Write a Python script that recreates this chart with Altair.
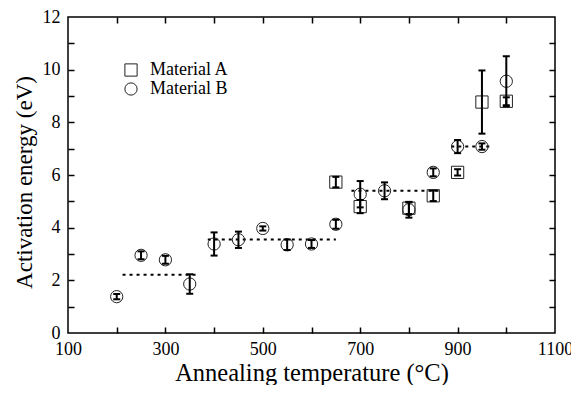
import altair as alt
import pandas as pd

# Material A (squares)
a_temp = [650, 700, 800, 850, 900, 950, 1000]
a_energy = [5.73, 4.80, 4.74, 5.21, 6.10, 8.77, 8.80]
a_err = [0.20, 0.25, 0.22, 0.20, 0.12, 1.20, 0.15]

# Material B (circles)
b_temp = [200, 250, 300, 350, 400, 450, 500, 550, 600, 650, 700, 750, 800, 850, 900, 950, 1000]
b_energy = [1.38, 2.95, 2.78, 1.86, 3.38, 3.54, 3.97, 3.35, 3.38, 4.13, 5.27, 5.40, 4.68, 6.10, 7.08, 7.08, 9.56]
b_err = [0.10, 0.15, 0.15, 0.37, 0.44, 0.31, 0.08, 0.20, 0.15, 0.17, 0.50, 0.32, 0.30, 0.15, 0.25, 0.12, 0.95]

# dotted plateau levels
fit_start = [212, 387, 682, 887]
fit_end = [364, 650, 867, 972]
fit_level = [2.21, 3.55, 5.40, 7.08]

x_label_values = [100, 300, 500, 700, 900, 1100]
x_tick_values = [200, 300, 400, 500, 600, 700, 800, 900, 1000]
y_label_values = [0, 2, 4, 6, 8, 10, 12]
y_tick_values = [1, 2, 3, 4, 5, 6, 7, 8, 9, 10, 11]

rows = []
for t, e, s in zip(a_temp, a_energy, a_err):
    rows.append({"T": t, "E": e, "lo": e - s, "hi": e + s, "material": "Material A"})
for t, e, s in zip(b_temp, b_energy, b_err):
    rows.append({"T": t, "E": e, "lo": e - s, "hi": e + s, "material": "Material B"})
df = pd.DataFrame(rows)
fit = pd.DataFrame({"x1": fit_start, "x2": fit_end, "y": fit_level})

FONT = "Liberation Serif"
xs = alt.Scale(domain=[100, 1100], nice=False, zero=False)
ys = alt.Scale(domain=[0, 12], nice=False, zero=True)


def tick_axis(orient, values):
    return alt.Axis(orient=orient, offset=-6, tickSize=6, tickWidth=1.5, tickColor="black",
                    values=values, labels=False, domain=False, grid=False, title="")


points = alt.Chart(df).mark_point(filled=False, size=150, strokeWidth=1, color="#222", opacity=1).encode(
    x=alt.X("T:Q", scale=xs, axis=alt.Axis(
        orient="bottom", values=x_label_values, ticks=False, domain=False, grid=False, format="d",
        labelFont=FONT, labelFontSize=18, labelColor="black", labelPadding=7,
        labelFlush=False, labelOverlap=False,
        title="Annealing temperature (°C)", titleFont=FONT, titleFontSize=24.5,
        titleFontWeight="normal", titleColor="black", titlePadding=3)),
    y=alt.Y("E:Q", scale=ys, axis=alt.Axis(
        orient="left", values=y_label_values, ticks=False, domain=False, grid=False, format="d",
        labelFont=FONT, labelFontSize=18, labelColor="black", labelPadding=8,
        labelFlush=False, labelOverlap=False,
        title="Activation energy (eV)", titleFont=FONT, titleFontSize=23,
        titleFontWeight="normal", titleColor="black", titlePadding=6, titleY=165)),
    shape=alt.Shape("material:N", scale=alt.Scale(domain=["Material A", "Material B"],
                                                    range=["square", "circle"]),
                    legend=alt.Legend(orient="none", legendX=54, legendY=44, title="",
                                      labelFont=FONT, labelFontSize=18,
                                      labelColor="black", labelLimit=300,
                                      symbolSize=150, symbolStrokeWidth=1, symbolStrokeColor="#222",
                                      symbolFillColor="transparent", labelOffset=10,
                                      rowPadding=1, padding=0)),
)

bars = alt.Chart(df).mark_rule(strokeWidth=2, color="black").encode(
    x=alt.X("T:Q", scale=xs, axis=tick_axis("bottom", x_tick_values)),
    y=alt.Y("lo:Q", scale=ys, axis=tick_axis("left", y_tick_values)),
    y2="hi:Q",
)
cap_lo = alt.Chart(df).mark_tick(orient="horizontal", size=7, thickness=2, color="black", opacity=1).encode(
    x=alt.X("T:Q", scale=xs, axis=None),
    y=alt.Y("lo:Q", scale=ys, axis=None),
)
cap_hi = alt.Chart(df).mark_tick(orient="horizontal", size=7, thickness=2, color="black", opacity=1).encode(
    x=alt.X("T:Q", scale=xs, axis=None),
    y=alt.Y("hi:Q", scale=ys, axis=None),
)
fits = alt.Chart(fit).mark_rule(strokeWidth=2, strokeDash=[3, 4], color="black").encode(
    x=alt.X("x1:Q", scale=xs, axis=tick_axis("top", x_tick_values)),
    x2="x2:Q",
    y=alt.Y("y:Q", scale=ys, axis=tick_axis("right", y_tick_values)),
)

chart = alt.layer(fits, points, bars, cap_lo, cap_hi).resolve_axis(
    x="independent", y="independent"
).properties(
    width=487, height=316,
    autosize=alt.AutoSizeParams(type="none"),
    padding={"left": 60, "top": 9, "right": 16, "bottom": 52},
    background="white",
).configure_view(stroke="black", strokeWidth=1.5).configure_axis(
    grid=False
)

chart.save("out.html", embed_options={"renderer": "svg", "actions": False})
